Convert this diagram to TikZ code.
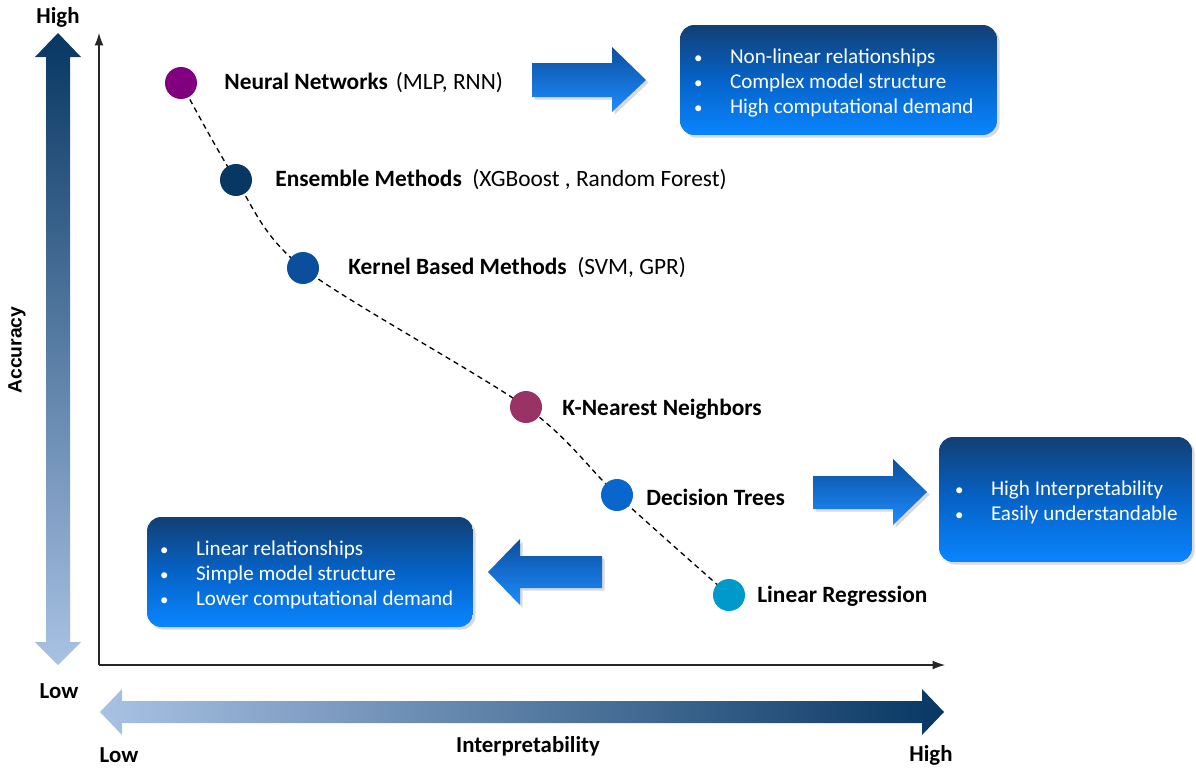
\documentclass[tikz,border=0pt]{standalone}
\usepackage{fontspec}
\usepackage{graphicx}
\setmainfont{Carlito}
\newfontfamily\axisfont{Liberation Sans}
\usetikzlibrary{arrows.meta,shadows,backgrounds}

% palette
\definecolor{axdark}{HTML}{073763}
\definecolor{axlight}{HTML}{A9C2E4}
\definecolor{boxtop}{HTML}{123F73}
\definecolor{boxmid}{HTML}{0563C8}
\definecolor{boxbot}{HTML}{0A85FF}
\definecolor{arrtop}{HTML}{0B4F9E}
\definecolor{arrbot}{HTML}{1E8CFF}
\definecolor{cNN}{HTML}{800080}
\definecolor{cEN}{HTML}{073763}
\definecolor{cKR}{HTML}{0B4F9C}
\definecolor{cKN}{HTML}{993366}
\definecolor{cDT}{HTML}{0866CC}
\definecolor{cLR}{HTML}{0099CC}

\newcommand\bitem{\makebox[0.72cm][l]{\scalebox{0.8}{\textbullet}}}

\tikzset{
  pt/.style={circle, inner sep=0pt, minimum size=0.64cm, fill=#1},
  lab/.style={anchor=west, inner sep=0pt, font=\fontsize{13.3}{15}\selectfont},
  axlab/.style={inner sep=0pt, font=\fontsize{13}{15}\selectfont\bfseries},
  infobox/.style={rounded corners=8pt, inner sep=0pt,
    top color=boxtop, bottom color=boxbot, middle color=boxmid,
    drop shadow={opacity=0.3, shadow xshift=1.5pt, shadow yshift=-1.5pt}},
  boxtext/.style={anchor=west, inner sep=0pt, text=white, align=left,
    font=\fontsize{12}{14.2}\selectfont},
  blockarrow/.style={top color=arrtop, bottom color=arrbot,
    drop shadow={opacity=0.3, shadow xshift=1.5pt, shadow yshift=-1.5pt}},
  thinaxis/.style={line width=0.6pt, draw=black!85, -{Latex[length=7pt,width=5pt]}},
  trend/.style={line width=0.75pt, dash pattern=on 3pt off 2.3pt}
}

\begin{document}
\begin{tikzpicture}[x=0.02cm, y=-0.02cm]
\useasboundingbox (0,0) rectangle (1196,771);

% large shaded axis arrows
\shade[top color=axdark, bottom color=axlight]
  (46,57) -- (35,57) -- (58,33) -- (81,57) -- (70,57) -- (70,642)
  -- (81,642) -- (58,665) -- (35,642) -- (46,642) -- cycle;
\shade[left color=axlight, right color=axdark]
  (100,712) -- (122,689) -- (122,701) -- (922,701) -- (922,689)
  -- (944,712) -- (922,735) -- (922,723) -- (122,723) -- (122,735) -- cycle;

% axis captions
\node[axlab] (yhigh) at (58,17) {High};
\node[axlab] (ylow) at (59,691) {Low};
\node[axlab] (xlow) at (119,755) {Low};
\node[axlab] (xhigh) at (931,755) {High};
\node[axlab] (xname) at (528,746) {Interpretability};
\node[inner sep=0pt, rotate=90, font=\axisfont\fontsize{11}{13}\selectfont\bfseries] (yname) at (17,350) {Accuracy};

% thin coordinate axes
\coordinate (origin) at (99,665);
\coordinate (ytip) at (99,33);
\coordinate (xtip) at (945,665);
\draw[thinaxis] (origin) -- (ytip);
\draw[thinaxis] (origin) -- (xtip);

% model points
\node[pt=cNN] (nn) at (181,83) {};
\node[pt=cEN] (en) at (236,180) {};
\node[pt=cKR] (kr) at (303,268) {};
\node[pt=cKN] (kn) at (526,407) {};
\node[pt=cDT] (dt) at (617,495) {};
\node[pt=cLR] (lr) at (729,595) {};

\begin{scope}[on background layer]
  \draw[trend] plot[smooth, tension=0.5] coordinates
    {(nn.center) (en.center) (kr.center) (kn.center) (dt.center) (lr.center)};
\end{scope}

% model labels
\node[lab] (nnl) at (224,83) {\textbf{Neural Networks}\hspace{4.5pt}(MLP, RNN)};
\node[lab] (enl) at (275,180) {\textbf{Ensemble Methods}\hspace{6pt}(XGBoost , Random Forest)};
\node[lab] (krl) at (348,268) {\textbf{Kernel Based Methods}\hspace{6pt}(SVM, GPR)};
\node[lab] (knl) at (562,409) {\textbf{K-Nearest Neighbors}};
\node[lab] (dtl) at (646,497) {\textbf{Decision Trees}};
\node[lab] (lrl) at (757,596) {\textbf{Linear Regression}};

% block arrows
\shade[blockarrow] (532,63) -- (612,63) -- (612,47) -- (646,80) -- (612,112)
  -- (612,97) -- (532,97) -- cycle;
\shade[blockarrow] (813,476) -- (893,476) -- (893,459) -- (927,492) -- (893,525)
  -- (893,509) -- (813,509) -- cycle;
\shade[blockarrow] (602,556) -- (520,556) -- (520,539) -- (488,572) -- (520,605)
  -- (520,588) -- (602,588) -- cycle;

% information boxes
\node[infobox, minimum width=6.34cm, minimum height=2.2cm] (boxhigh) at (838.5,80) {};
\node[boxtext] (txthigh) at ([xshift=0.28cm, yshift=-1.5pt]boxhigh.west)
  {\bitem Non-linear relationships\\ \bitem Complex model structure\\ \bitem High computational demand};

\node[infobox, minimum width=5.06cm, minimum height=2.5cm] (boxint) at (1065.5,499.5) {};
\node[boxtext] (txtint) at ([xshift=0.32cm, yshift=-1.5pt]boxint.west)
  {\bitem High Interpretability\\ \bitem Easily understandable};

\node[infobox, minimum width=6.52cm, minimum height=2.2cm] (boxlow) at (310,572) {};
\node[boxtext] (txtlow) at ([xshift=0.26cm, yshift=-1.5pt]boxlow.west)
  {\bitem Linear relationships\\ \bitem Simple model structure\\ \bitem Lower computational demand};
\end{tikzpicture}
\end{document}
